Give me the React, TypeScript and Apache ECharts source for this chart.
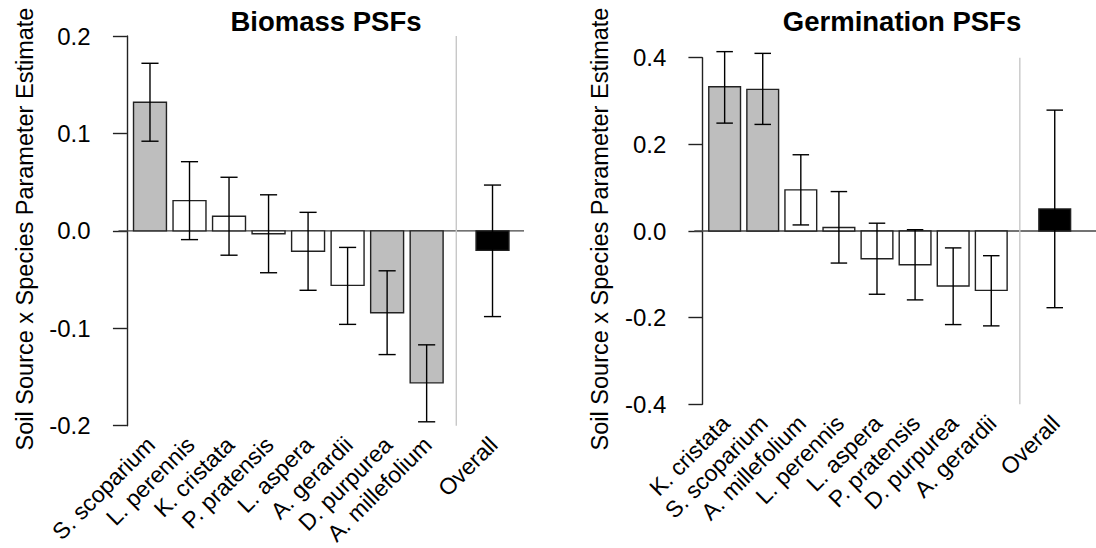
import React, { useEffect, useRef } from "react";
import * as echarts from "echarts";

// ---- data ----
const biomassSpecies = ["S. scoparium", "L. perennis", "K. cristata", "P. pratensis", "L. aspera", "A. gerardii", "D. purpurea", "A. millefolium", "Overall"];
const biomassEst = [0.132, 0.031, 0.015, -0.003, -0.021, -0.056, -0.084, -0.156, -0.020];
const biomassLow = [0.092, -0.009, -0.025, -0.043, -0.061, -0.096, -0.127, -0.196, -0.088];
const biomassHigh = [0.172, 0.071, 0.055, 0.037, 0.019, -0.017, -0.041, -0.117, 0.047];
const biomassFill = ["sig", "ns", "ns", "ns", "ns", "ns", "sig", "sig", "overall"];

const germSpecies = ["K. cristata", "S. scoparium", "A. millefolium", "L. perennis", "L. aspera", "P. pratensis", "D. purpurea", "A. gerardii", "Overall"];
const germEst = [0.333, 0.327, 0.095, 0.008, -0.064, -0.078, -0.127, -0.137, 0.051];
const germLow = [0.249, 0.246, 0.014, -0.074, -0.146, -0.159, -0.216, -0.219, -0.177];
const germHigh = [0.414, 0.410, 0.176, 0.091, 0.018, 0.003, -0.039, -0.057, 0.279];
const germFill = ["sig", "sig", "ns", "ns", "ns", "ns", "ns", "ns", "overall"];

// barplot spacing (space before each bar, bar width 1)
const barSpaces = [0.2, 0.2, 0.2, 0.2, 0.2, 0.2, 0.2, 0.2, 1];
const dividerAt = 10;

const fillColors: Record<string, string> = { sig: "#bebebe", ns: "#ffffff", overall: "#000000" };
const FONT = "'Liberation Sans', Arial, Helvetica, sans-serif";

function barCenters(spaces: number[]) {
  const out: number[] = [];
  let edge = 0;
  for (const s of spaces) {
    edge += s;
    out.push(edge + 0.5);
    edge += 1;
  }
  return out;
}

export default function App() {
  const ref = useRef<HTMLDivElement>(null);
  useEffect(() => {
    if (!ref.current) return;
    const chart = echarts.init(ref.current, undefined, { renderer: "svg" });
    const centers = barCenters(barSpaces);
    const xMin = -0.256;
    const xMaxL = 12.056;
    const xMaxR = 12.4;

    const mkData = (est: number[], lo: number[], hi: number[], fill: string[]) =>
      est.map((v, i) => ({ value: [centers[i], v, lo[i], hi[i]], fill: fill[i] }));

    const mkRender = (names: string[], fills: string[], yMin: number) => (params: any, api: any) => {
      const i = params.dataIndex;
      const x = api.value(0);
      const v = api.value(1);
      const lo = api.value(2);
      const hi = api.value(3);
      const a = api.coord([x - 0.5, Math.max(v, 0)]);
      const b = api.coord([x + 0.5, Math.min(v, 0)]);
      const c = api.coord([x, 0]);
      const pl = api.coord([x, lo]);
      const ph = api.coord([x, hi]);
      const cap = api.size([0.26, 0])[0];
      const lab = api.coord([x, yMin]);
      const lineStyle = { stroke: "#000", lineWidth: 1.4 };
      return {
        type: "group",
        children: [
          {
            type: "rect",
            shape: { x: a[0], y: a[1], width: b[0] - a[0], height: Math.max(b[1] - a[1], 1) },
            style: { fill: fillColors[fills[i]], stroke: "#222", lineWidth: 1.4 },
          },
          { type: "line", shape: { x1: c[0], y1: pl[1], x2: c[0], y2: ph[1] }, style: lineStyle },
          { type: "line", shape: { x1: c[0] - cap, y1: ph[1], x2: c[0] + cap, y2: ph[1] }, style: lineStyle },
          { type: "line", shape: { x1: c[0] - cap, y1: pl[1], x2: c[0] + cap, y2: pl[1] }, style: lineStyle },
          {
            type: "text",
            x: c[0] + 1,
            y: lab[1] + 15,
            rotation: Math.PI / 4,
            style: {
              text: names[i],
              align: "right",
              verticalAlign: "middle",
              fill: "#000",
              fontSize: 23,
              fontFamily: FONT,
            },
          },
        ],
      };
    };

    const yAxisCommon = {
      type: "value",
      splitLine: { show: false },
      axisLine: { show: true, lineStyle: { color: "#222", width: 1.4 } },
      axisTick: { show: true, length: 14, lineStyle: { color: "#222", width: 1.4 } },
      axisLabel: {
        color: "#000",
        fontSize: 24,
        fontFamily: FONT,
        margin: 28,
        formatter: (v: number) => v.toFixed(1),
      },
    };

    const yTitle = (x: number) => ({
      type: "text",
      x,
      y: 229,
      rotation: Math.PI / 2,
      style: {
        text: "Soil Source x Species Parameter Estimate",
        align: "center",
        verticalAlign: "middle",
        fontSize: 23.5,
        fontFamily: FONT,
        fill: "#000",
      },
    });

    chart.setOption({
      animation: false,
      grid: [
        { left: 118.5, top: 36, width: 405.5, height: 389.7 },
        { left: 694.3, top: 57.7, width: 405.7 * ((xMaxR - xMin) / (xMaxL - xMin)), height: 346.6 },
      ],
      xAxis: [
        { type: "value", gridIndex: 0, min: xMin, max: xMaxL, show: false },
        { type: "value", gridIndex: 1, min: xMin, max: xMaxR, show: false },
      ],
      yAxis: [
        { ...yAxisCommon, gridIndex: 0, min: -0.2, max: 0.2, interval: 0.1 },
        { ...yAxisCommon, gridIndex: 1, min: -0.4, max: 0.4, interval: 0.2 },
      ],
      title: [
        {
          text: "Biomass PSFs",
          left: 321,
          top: 2,
          textAlign: "center",
          textStyle: { fontSize: 27.5, fontWeight: "bold", fontFamily: FONT, color: "#000" },
        },
        {
          text: "Germination PSFs",
          left: 897,
          top: 2,
          textAlign: "center",
          textStyle: { fontSize: 27.5, fontWeight: "bold", fontFamily: FONT, color: "#000" },
        },
      ],
      graphic: [yTitle(25), yTitle(600)],
      series: [
        {
          type: "line",
          xAxisIndex: 0,
          yAxisIndex: 0,
          data: [[xMin, 0], [xMaxL, 0]],
          symbol: "none",
          lineStyle: { color: "#444", width: 1.4 },
          silent: true,
          z: 1,
        },
        {
          type: "line",
          xAxisIndex: 1,
          yAxisIndex: 1,
          data: [[xMin, 0], [xMaxR, 0]],
          symbol: "none",
          lineStyle: { color: "#444", width: 1.4 },
          silent: true,
          z: 1,
        },
        {
          type: "line",
          xAxisIndex: 0,
          yAxisIndex: 0,
          data: [[dividerAt, -0.2], [dividerAt, 0.2]],
          symbol: "none",
          lineStyle: { color: "#c8c8c8", width: 1.4 },
          silent: true,
          z: 1,
        },
        {
          type: "line",
          xAxisIndex: 1,
          yAxisIndex: 1,
          data: [[dividerAt, -0.4], [dividerAt, 0.4]],
          symbol: "none",
          lineStyle: { color: "#c8c8c8", width: 1.4 },
          silent: true,
          z: 1,
        },
        {
          type: "custom",
          xAxisIndex: 0,
          yAxisIndex: 0,
          clip: false,
          silent: true,
          z: 2,
          data: mkData(biomassEst, biomassLow, biomassHigh, biomassFill),
          renderItem: mkRender(biomassSpecies, biomassFill, -0.2),
        },
        {
          type: "custom",
          xAxisIndex: 1,
          yAxisIndex: 1,
          clip: false,
          silent: true,
          z: 2,
          data: mkData(germEst, germLow, germHigh, germFill),
          renderItem: mkRender(germSpecies, germFill, -0.4),
        },
      ],
    });
    return () => chart.dispose();
  }, []);
  return (
    <div
      ref={ref}
      style={{ position: "fixed", left: 0, top: 0, width: 1096, height: 548, background: "#fff" }}
    />
  );
}
